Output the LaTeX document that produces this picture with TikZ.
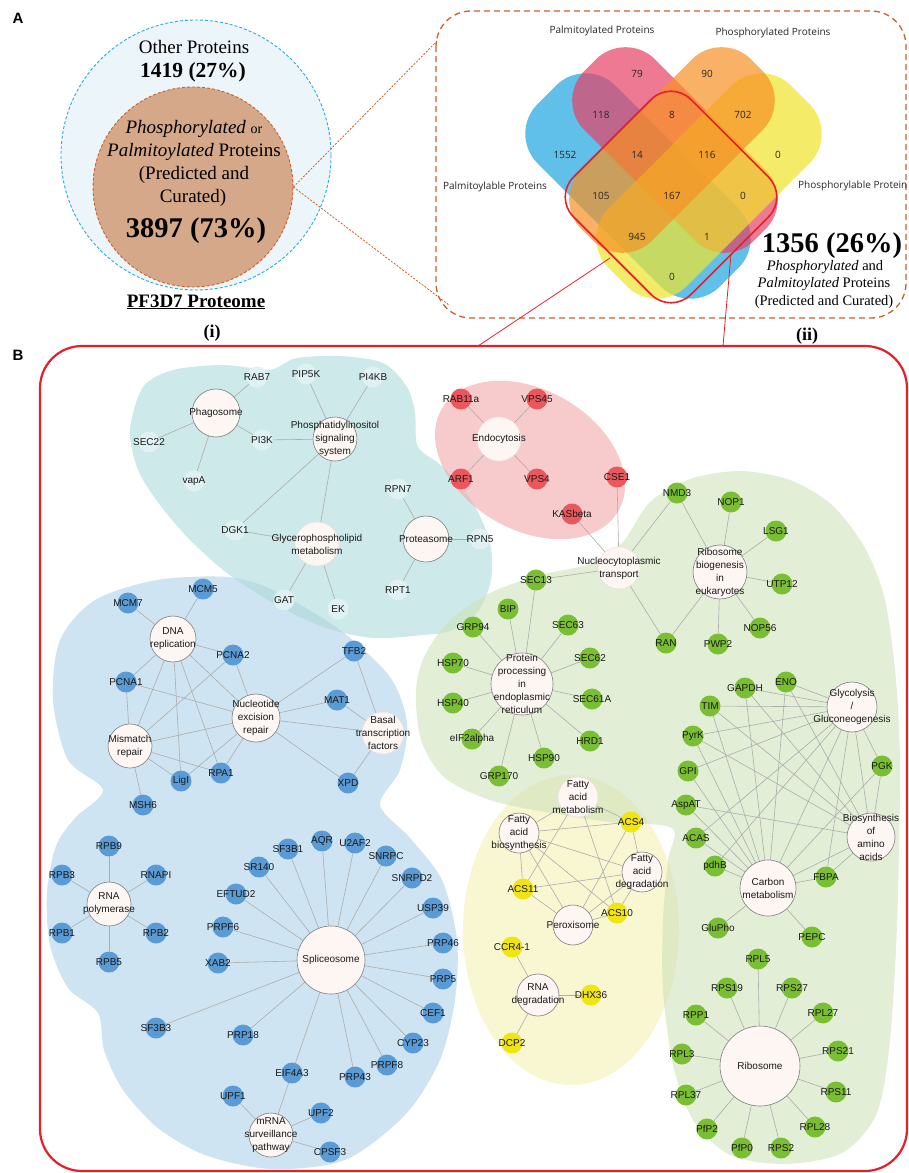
\documentclass[tikz,border=0pt]{standalone}
\usepackage{fontspec}
\setmainfont{Liberation Serif}
\setsansfont{Liberation Sans}
\newfontfamily\vennfont{Open Sans}
\usetikzlibrary{calc}
\pgfdeclarelayer{blobs}
\pgfdeclarelayer{edgelayer}
\pgfsetlayers{blobs,edgelayer,main}
\definecolor{nblue}{RGB}{91,155,213}
\definecolor{ngreen}{RGB}{122,190,52}
\definecolor{nyellow}{RGB}{240,228,20}
\definecolor{nred}{RGB}{234,88,94}
\definecolor{nteal}{RGB}{224,241,243}
\definecolor{hubfill}{RGB}{253,246,243}
\definecolor{hubline}{RGB}{125,125,125}
\definecolor{hubline2}{RGB}{236,226,223}
\definecolor{edgegray}{RGB}{172,172,172}
\definecolor{bblue}{RGB}{175,210,233}
\definecolor{bteal}{RGB}{172,218,218}
\definecolor{bgreen}{RGB}{207,227,187}
\definecolor{byellow}{RGB}{245,240,180}
\definecolor{bpink}{RGB}{242,168,170}
\definecolor{vblue}{RGB}{30,165,225}
\definecolor{vpink}{RGB}{230,65,100}
\definecolor{vorange}{RGB}{247,145,35}
\definecolor{vyellow}{RGB}{240,228,40}
\definecolor{redline}{RGB}{232,30,40}
\definecolor{rust}{RGB}{205,95,40}
\definecolor{dashblue}{RGB}{40,170,230}
\definecolor{lightbluefill}{RGB}{236,245,250}
\definecolor{tanfill}{RGB}{213,168,138}
\tikzset{
  gene/.style={circle,inner sep=0pt,minimum size=21pt,draw=none},
  glab/.style={inner sep=0pt,font=\sffamily\fontsize{10}{13}\selectfont,text=black!90},
  hub/.style={circle,inner sep=0pt,fill=hubfill,draw=hubline,line width=0.6pt},
  nob/.style={draw=hubline2},
  edge/.style={draw=edgegray,line width=0.6pt},
  blob/.style={fill opacity=0.6},
  vset/.style={rounded corners=42pt,inner sep=0pt,fill opacity=0.7,draw=none},
  vlab/.style={font=\vennfont\fontsize{10}{12}\selectfont,inner sep=0pt,text=black!85},
  stxt/.style={inner sep=0pt,anchor=base},
}
\newcommand\gnode[5]{\node[gene,fill=#5] (#1) at (#2,#3) {}; \node[glab] (#1-l) at (#1) {#4};}
\newcommand\hnode[6]{\node[hub,minimum size=#5pt,#6] (#1) at (#2,#3) {}; \node[glab,align=center] (#1-l) at (#1) {#4};}
\newcommand\conn[2]{\foreach \tgt in {#2}{\draw[edge] (#1) -- (\tgt);}}

\begin{document}
\begin{tikzpicture}[x=1pt,y=-1pt]
\useasboundingbox (0,0) rectangle (909,1173);

% ================= Panel A (i) =================
\node[font=\sffamily\bfseries\fontsize{15}{18}\selectfont,inner sep=0pt] (labA) at (18,18) {A};
\node[circle,draw=dashblue,dash pattern=on 3pt off 2pt,line width=0.9pt,fill=lightbluefill,minimum size=270pt,inner sep=0pt] (outer) at (196,155) {};
\node[circle,draw=rust,dash pattern=on 3pt off 2pt,line width=0.9pt,fill=tanfill,minimum size=200pt,inner sep=0pt] (inner) at (193,187) {};
\node[stxt,font=\fontsize{19}{23}\selectfont] (t1) at (194,53) {Other Proteins};
\node[stxt,font=\bfseries\fontsize{21.5}{25}\selectfont] (t2) at (193,77) {1419 (27\%)};
\node[stxt,font=\fontsize{19}{23}\selectfont] (t3) at (194,133) {\textit{Phosphorylated} {\fontsize{14}{16}\selectfont or}};
\node[stxt,font=\fontsize{19}{23}\selectfont] (t4) at (194,156) {\textit{Palmitoylated} Proteins};
\node[stxt,font=\fontsize{19}{23}\selectfont] (t5) at (194,179) {(Predicted and};
\node[stxt,font=\fontsize{19}{23}\selectfont] (t6) at (193,202) {Curated)};
\node[stxt,font=\bfseries\fontsize{28.5}{32}\selectfont] (t7) at (196,237) {3897 (73\%)};
\node[stxt,font=\bfseries\fontsize{19}{23}\selectfont] (t8) at (196,307) {\underline{PF3D7 Proteome}};
\node[stxt,font=\bfseries\fontsize{18}{22}\selectfont] (t9) at (212,337) {(i)};

% ================= Panel A (ii) Venn =================
\draw[rust,dash pattern=on 6pt off 4pt,line width=1.3pt,rounded corners=35pt] (436,11) rectangle (906,318);
\coordinate (vtl) at (438,40);
\coordinate (vbl) at (449,305);
\draw[rust,dash pattern=on 2pt off 1.5pt,line width=0.8pt] (inner.east) -- (vtl);
\draw[rust,dash pattern=on 2pt off 1.5pt,line width=0.8pt] (inner.east) -- (vbl);

\node[vset,fill=vblue,minimum width=258pt,minimum height=110pt,rotate=-45] (vsb) at (638,186) {};
\node[vset,fill=vpink,minimum width=240pt,minimum height=100pt,rotate=-45] (vsp) at (675,150) {};
\node[vset,fill=vyellow,minimum width=258pt,minimum height=110pt,rotate=45] (vsy) at (709,186) {};
\node[vset,fill=vorange,minimum width=240pt,minimum height=100pt,rotate=45] (vso) at (672,150) {};
\node[draw=redline,line width=1.6pt,rounded corners=28pt,minimum size=166pt,inner sep=0pt,rotate=45] (redsq) at (671,197) {};

\node[vlab] (n79) at (637,74) {79};
\node[vlab] (n90) at (707,74) {90};
\node[vlab] (n118) at (601,115) {118};
\node[vlab] (n8) at (672,115) {8};
\node[vlab] (n702) at (743,115) {702};
\node[vlab] (n1552) at (565,155) {1552};
\node[vlab] (n14) at (637,155) {14};
\node[vlab] (n116) at (707,155) {116};
\node[vlab] (n0a) at (778,155) {0};
\node[vlab] (n105) at (601,196) {105};
\node[vlab] (n167) at (672,196) {167};
\node[vlab] (n0b) at (743,196) {0};
\node[vlab] (n945) at (637,237) {945};
\node[vlab] (n1) at (707,237) {1};
\node[vlab] (n0c) at (672,277) {0};
\node[vlab,anchor=base] (vl1) at (602,33) {Palmitoylated Proteins};
\node[vlab,anchor=base] (vl2) at (773,35) {Phosphorylated Proteins};
\node[vlab,anchor=base] (vl3) at (495,189) {Palmitoylable Proteins};
\node[vlab,anchor=base west] (vl4) at (798,188) {Phosphorylable Protein};

\node[stxt,font=\bfseries\fontsize{28.5}{32}\selectfont] (t10) at (832,252) {1356 (26\%)};
\node[stxt,font=\fontsize{14.5}{17}\selectfont] (t11) at (825,270) {\textit{Phosphorylated} and};
\node[stxt,font=\fontsize{14.5}{17}\selectfont] (t12) at (824,287) {\textit{Palmitoylated} Proteins};
\node[stxt,font=\fontsize{14.5}{17}\selectfont] (t13) at (824,305) {(Predicted and Curated)};
\node[stxt,font=\bfseries\fontsize{18}{22}\selectfont] (t14) at (807,340) {(ii)};

% ================= Panel B frame =================
\node[font=\sffamily\bfseries\fontsize{15}{18}\selectfont,inner sep=0pt] (labB) at (18,355) {B};
\draw[redline,line width=2.2pt,rounded corners=42pt] (40,346) rectangle (907,1171);
\coordinate (rl1) at (610,258);
\coordinate (rl2) at (478,346);
\coordinate (rl3) at (731,254);
\coordinate (rl4) at (723,346);
\draw[redline,line width=0.8pt] (rl1) -- (rl2);
\draw[redline,line width=0.8pt] (rl3) -- (rl4);

% ================= Blobs =================
\begin{pgfonlayer}{blobs}
\fill[bblue,blob] plot[smooth cycle,tension=0.5] coordinates {(157,580) (227,577) (273,590) (340,630) (390,677) (407,723) (400,770) (380,805) (410,838) (442,880) (457,940) (455,1000) (440,1060) (405,1115) (345,1160) (271,1169) (205,1155) (158,1128) (123,1090) (104,1050) (98,1013) (68,988) (50,945) (47,893) (56,846) (75,818) (103,790) (68,760) (53,700) (60,640) (95,600)};
\fill[bteal,blob] plot[smooth cycle,tension=0.5] coordinates {(130,430) (143,387) (173,370) (223,365) (267,370) (280,366) (297,358) (340,356) (383,363) (407,387) (415,413) (418,447) (443,467) (473,503) (490,543) (491,580) (477,613) (450,631) (423,635) (373,638) (323,627) (273,603) (227,573) (190,540) (160,505) (138,470)};
\fill[bpink,blob,rotate around={-30:(530,460)}] (530,460) ellipse [x radius=102, y radius=70];
\fill[byellow,blob] (571,930) ellipse [x radius=108, y radius=155];
\fill[bgreen,blob] plot[smooth cycle,tension=0.5] coordinates {(416,690) (425,655) (450,620) (490,593) (540,575) (590,564) (622,543) (650,502) (690,479) (740,471) (790,480) (832,505) (865,548) (885,600) (896,680) (900,760) (899,850) (896,950) (889,1050) (876,1115) (842,1153) (785,1164) (730,1155) (693,1120) (673,1065) (663,990) (663,920) (668,860) (672,828) (610,822) (557,814) (493,801) (445,778) (421,740)};
\end{pgfonlayer}

% ================= Nodes: teal cluster =================
\gnode{RAB7}{257}{377}{RAB7}{nteal}
\gnode{PIP5K}{306}{374}{PIP5K}{nteal}
\gnode{PI4KB}{373}{377}{PI4KB}{nteal}
\gnode{SEC22}{149}{442}{SEC22}{nteal}
\gnode{PI3K}{262}{440}{PI3K}{nteal}
\gnode{vapA}{194}{481}{vapA}{nteal}
\gnode{RPN7}{398}{489}{RPN7}{nteal}
\gnode{DGK1}{235}{530}{DGK1}{nteal}
\gnode{RPN5}{480}{539}{RPN5}{nteal}
\gnode{RPT1}{398}{590}{RPT1}{nteal}
\gnode{GAT}{284}{600}{GAT}{nteal}
\gnode{EK}{338}{609}{EK}{nteal}
\hnode{Phago}{216}{413}{Phagosome}{48}{}
\hnode{PhIns}{335}{439}{Phosphatidylinositol\\signaling\\system}{44}{}
\hnode{Glycero}{317}{544}{Glycerophospholipid\\metabolism}{44}{nob}
\hnode{Proteas}{426}{539}{Proteasome}{46}{}

% ================= red cluster =================
\gnode{RAB11a}{461}{399}{RAB11a}{nred}
\gnode{VPS45}{537}{399}{VPS45}{nred}
\gnode{ARF1}{461}{479}{ARF1}{nred}
\gnode{VPS4}{537}{479}{VPS4}{nred}
\gnode{CSE1}{617}{477}{CSE1}{nred}
\gnode{KASbeta}{572}{514}{KASbeta}{nred}
\hnode{Endo}{499}{439}{Endocytosis}{44}{nob}
\hnode{Nucleo}{619}{568}{Nucleocytoplasmic\\transport}{42}{nob}

% ================= green cluster =================
\gnode{NMD3}{677}{493}{NMD3}{ngreen}
\gnode{NOP1}{731}{502}{NOP1}{ngreen}
\gnode{LSG1}{776}{531}{LSG1}{ngreen}
\gnode{UTP12}{782}{584}{UTP12}{ngreen}
\gnode{NOP56}{760}{628}{NOP56}{ngreen}
\gnode{PWP2}{718}{644}{PWP2}{ngreen}
\gnode{RAN}{666}{643}{RAN}{ngreen}
\hnode{RibBio}{720}{572}{Ribosome\\biogenesis\\in\\eukaryotes}{54}{}
\gnode{SEC13}{536}{580}{SEC13}{ngreen}
\gnode{BIP}{508}{609}{BIP}{ngreen}
\gnode{GRP94}{473}{627}{GRP94}{ngreen}
\gnode{SEC63}{568}{625}{SEC63}{ngreen}
\gnode{HSP70}{453}{663}{HSP70}{ngreen}
\gnode{SEC62}{590}{658}{SEC62}{ngreen}
\gnode{SEC61A}{592}{699}{SEC61A}{ngreen}
\gnode{HSP40}{453}{703}{HSP40}{ngreen}
\gnode{eIF2alpha}{472}{739}{eIF2alpha}{ngreen}
\gnode{HRD1}{590}{741}{HRD1}{ngreen}
\gnode{HSP90}{544}{758}{HSP90}{ngreen}
\gnode{GRP170}{499}{776}{GRP170}{ngreen}
\hnode{ProtProc}{522}{684}{Protein\\processing\\in\\endoplasmic\\reticulum}{62}{}
\gnode{GAPDH}{745}{688}{GAPDH}{ngreen}
\gnode{ENO}{786}{682}{ENO}{ngreen}
\gnode{TIM}{710}{706}{TIM}{ngreen}
\gnode{PyrK}{693}{736}{PyrK}{ngreen}
\gnode{GPI}{688}{771}{GPI}{ngreen}
\gnode{PGK}{882}{766}{PGK}{ngreen}
\gnode{AspAT}{686}{805}{AspAT}{ngreen}
\gnode{ACAS}{696}{838}{ACAS}{ngreen}
\gnode{pdhB}{715}{866}{pdhB}{ngreen}
\gnode{FBPA}{826}{877}{FBPA}{ngreen}
\gnode{GluPho}{718}{928}{GluPho}{ngreen}
\gnode{PEPC}{812}{937}{PEPC}{ngreen}
\hnode{Glyc}{852}{707}{Glycolysis\\/\\Gluconeogenesis}{50}{}
\hnode{Bio}{871}{837}{Biosynthesis\\of\\amino\\acids}{48}{}
\hnode{Carbon}{768}{888}{Carbon\\metabolism}{56}{}
\gnode{RPL5}{758}{959}{RPL5}{ngreen}
\gnode{RPS19}{727}{988}{RPS19}{ngreen}
\gnode{RPS27}{792}{988}{RPS27}{ngreen}
\gnode{RPP1}{696}{1015}{RPP1}{ngreen}
\gnode{RPL27}{823}{1013}{RPL27}{ngreen}
\gnode{RPL3}{682}{1054}{RPL3}{ngreen}
\gnode{RPS21}{838}{1051}{RPS21}{ngreen}
\gnode{RPL37}{686}{1095}{RPL37}{ngreen}
\gnode{RPS11}{836}{1092}{RPS11}{ngreen}
\gnode{PfP2}{707}{1129}{PfP2}{ngreen}
\gnode{RPL28}{815}{1127}{RPL28}{ngreen}
\gnode{PfP0}{742}{1148}{PfP0}{ngreen}
\gnode{RPS2}{781}{1148}{RPS2}{ngreen}
\hnode{Ribo}{760}{1066}{Ribosome}{80}{}

% ================= yellow cluster =================
\gnode{ACS4}{631}{822}{ACS4}{nyellow}
\gnode{ACS11}{523}{889}{ACS11}{nyellow}
\gnode{ACS10}{617}{913}{ACS10}{nyellow}
\gnode{CCR41}{512}{947}{CCR4-1}{nyellow}
\gnode{DHX36}{591}{995}{DHX36}{nyellow}
\gnode{DCP2}{512}{1043}{DCP2}{nyellow}
\hnode{FAmet}{578}{797}{Fatty\\acid\\metabolism}{40}{nob}
\hnode{FAbio}{519}{833}{Fatty\\acid\\biosynthesis}{40}{}
\hnode{FAdeg}{642}{872}{Fatty\\acid\\degradation}{40}{}
\hnode{Perox}{573}{925}{Peroxisome}{40}{}
\hnode{RNAdeg}{538}{995}{RNA\\degradation}{42}{}

% ================= blue cluster =================
\gnode{MCM7}{128}{603}{MCM7}{nblue}
\gnode{MCM5}{203}{589}{MCM5}{nblue}
\gnode{PCNA2}{233}{655}{PCNA2}{nblue}
\gnode{TFB2}{354}{651}{TFB2}{nblue}
\gnode{PCNA1}{126}{682}{PCNA1}{nblue}
\gnode{MAT1}{337}{700}{MAT1}{nblue}
\gnode{LigI}{181}{781}{LigI}{nblue}
\gnode{RPA1}{221}{773}{RPA1}{nblue}
\gnode{XPD}{348}{783}{XPD}{nblue}
\gnode{MSH6}{143}{805}{MSH6}{nblue}
\hnode{DNArep}{173}{639}{DNA\\replication}{46}{}
\hnode{NER}{256}{718}{Nucleotide\\excision\\repair}{48}{}
\hnode{Basal}{383}{733}{Basal\\transcription\\factors}{42}{nob}
\hnode{Mismatch}{130}{746}{Mismatch\\repair}{44}{}
\gnode{RPB9}{109}{846}{RPB9}{nblue}
\gnode{RPB3}{62}{875}{RPB3}{nblue}
\gnode{RNAPI}{156}{875}{RNAPI}{nblue}
\gnode{RPB1}{62}{933}{RPB1}{nblue}
\gnode{RPB2}{156}{933}{RPB2}{nblue}
\gnode{RPB5}{109}{962}{RPB5}{nblue}
\hnode{RNApol}{109}{904}{RNA\\polymerase}{44}{}
\gnode{AQR}{322}{841}{AQR}{nblue}
\gnode{U2AF2}{355}{843}{U2AF2}{nblue}
\gnode{SF3B1}{288}{849}{SF3B1}{nblue}
\gnode{SNRPC}{386}{856}{SNRPC}{nblue}
\gnode{SR140}{259}{867}{SR140}{nblue}
\gnode{SNRPD2}{412}{878}{SNRPD2}{nblue}
\gnode{EFTUD2}{236}{894}{EFTUD2}{nblue}
\gnode{USP39}{433}{908}{USP39}{nblue}
\gnode{PRPF6}{223}{927}{PRPF6}{nblue}
\gnode{PRP46}{443}{943}{PRP46}{nblue}
\gnode{XAB2}{218}{963}{XAB2}{nblue}
\gnode{PRP5}{443}{979}{PRP5}{nblue}
\gnode{CEF1}{433}{1013}{CEF1}{nblue}
\gnode{SF3B3}{156}{1028}{SF3B3}{nblue}
\gnode{PRP18}{243}{1035}{PRP18}{nblue}
\gnode{CYP23}{413}{1043}{CYP23}{nblue}
\gnode{PRPF8}{387}{1065}{PRPF8}{nblue}
\gnode{EIF4A3}{292}{1073}{EIF4A3}{nblue}
\gnode{PRP43}{355}{1077}{PRP43}{nblue}
\gnode{UPF1}{233}{1096}{UPF1}{nblue}
\gnode{UPF2}{321}{1113}{UPF2}{nblue}
\gnode{CPSF3}{330}{1152}{CPSF3}{nblue}
\hnode{Splice}{331}{960}{Spliceosome}{68}{}
\hnode{mRNA}{271}{1135}{mRNA\\surveillance\\pathway}{44}{}

% ================= Edges =================
\begin{pgfonlayer}{edgelayer}
\conn{Phago}{RAB7,SEC22,PI3K,vapA}
\conn{PhIns}{PIP5K,PI4KB,PI3K,DGK1,Glycero}
\conn{Glycero}{DGK1,GAT,EK}
\conn{Proteas}{RPN7,RPN5,RPT1}
\conn{Endo}{RAB11a,VPS45,ARF1,VPS4}
\conn{Nucleo}{CSE1,KASbeta,NMD3,SEC13,RAN}
\conn{RibBio}{NMD3,NOP1,LSG1,UTP12,NOP56,PWP2,RAN}
\conn{ProtProc}{SEC13,BIP,GRP94,SEC63,HSP70,SEC62,HSP40,SEC61A,eIF2alpha,HRD1,HSP90,GRP170}
\conn{Glyc}{ENO,GAPDH,TIM,PyrK,GPI,ACAS,pdhB,Carbon,FBPA,Bio,PGK}
\conn{Carbon}{ENO,GAPDH,TIM,PyrK,GPI,AspAT,ACAS,pdhB,PGK,FBPA,Bio,GluPho,PEPC}
\conn{Bio}{ENO,GAPDH,TIM,PyrK,AspAT,PGK,FBPA}
\conn{Ribo}{RPL5,RPS19,RPS27,RPP1,RPL27,RPL3,RPS21,RPL37,RPS11,PfP2,RPL28,PfP0,RPS2}
\conn{FAmet}{FAbio,ACS4,ACS11,ACS10}
\conn{FAbio}{ACS4,FAdeg,ACS11,ACS10,Perox}
\conn{ACS4}{FAdeg,Perox}
\conn{FAdeg}{ACS11,ACS10,Perox}
\conn{Perox}{ACS11,ACS10}
\conn{RNAdeg}{CCR41,DHX36,DCP2}
\conn{DNArep}{MCM7,MCM5,PCNA2,PCNA1,Mismatch,LigI,RPA1,NER}
\conn{PCNA2}{NER,Mismatch}
\conn{PCNA1}{NER,Mismatch}
\conn{Mismatch}{NER,LigI,RPA1,MSH6}
\conn{NER}{LigI,RPA1,TFB2,MAT1,Basal,XPD}
\conn{Basal}{TFB2,MAT1,XPD}
\conn{RNApol}{RPB9,RPB3,RNAPI,RPB1,RPB2,RPB5}
\conn{Splice}{SF3B1,AQR,U2AF2,SNRPC,SNRPD2,USP39,PRP46,PRP5,CEF1,CYP23,PRPF8,PRP43,EIF4A3,PRP18,SF3B3,XAB2,PRPF6,EFTUD2,SR140}
\conn{mRNA}{EIF4A3,UPF1,UPF2,CPSF3}
\end{pgfonlayer}
\end{tikzpicture}
\end{document}
